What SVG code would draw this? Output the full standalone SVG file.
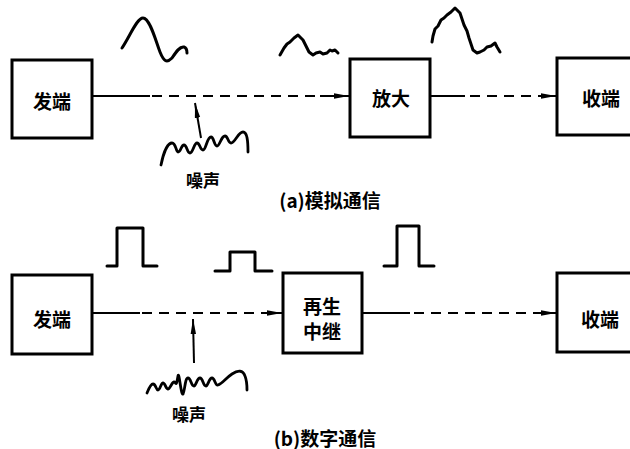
<svg xmlns="http://www.w3.org/2000/svg" width="630" height="449" viewBox="0 0 630 449">
<style>
.box{fill:#fff;stroke:#000;stroke-width:3}
.lbl{font-family:"Noto Sans CJK SC","Noto Sans",sans-serif;font-weight:bold;font-size:19px;fill:#000;text-anchor:middle;dominant-baseline:central}
.cap{font-family:"Noto Sans CJK SC","Noto Sans",sans-serif;font-weight:bold;font-size:19px;fill:#000;text-anchor:middle;dominant-baseline:central}
.ln{fill:none;stroke:#000;stroke-width:2}
.dash{fill:none;stroke:#000;stroke-width:2;stroke-dasharray:10 7}
.wave{fill:none;stroke:#000;stroke-width:3;stroke-linejoin:round;stroke-linecap:round}
.nz{fill:none;stroke:#000;stroke-width:2.8;stroke-linejoin:round;stroke-linecap:round}
</style>
<defs>
<marker id="ah" markerUnits="userSpaceOnUse" markerWidth="16" markerHeight="8" refX="15" refY="4" orient="auto">
<path d="M0,1.3 L15,4 L0,6.7 Z" fill="#000"/>
</marker>
</defs>

<g id="connectors">
<!-- (a) -->
<line class="ln" x1="92" y1="96" x2="150" y2="96"/>
<line class="dash" x1="152" y1="96" x2="322" y2="96"/>
<line class="ln" x1="320" y1="96" x2="349" y2="96" marker-end="url(#ah)"/>
<line class="ln" x1="430" y1="96" x2="465" y2="96"/>
<line class="dash" x1="470" y1="96" x2="540" y2="96"/>
<line class="ln" x1="538" y1="96" x2="556" y2="96" marker-end="url(#ah)"/>
<line class="ln" x1="201" y1="138" x2="195" y2="103" marker-end="url(#ah)"/>
<!-- (b) -->
<line class="ln" x1="92" y1="313" x2="140" y2="313"/>
<line class="dash" x1="142" y1="313" x2="265" y2="313"/>
<line class="ln" x1="262" y1="313" x2="282" y2="313" marker-end="url(#ah)"/>
<line class="ln" x1="362" y1="313" x2="410" y2="313"/>
<line class="dash" x1="414" y1="313" x2="540" y2="313"/>
<line class="ln" x1="536" y1="313" x2="556" y2="313" marker-end="url(#ah)"/>
<line class="ln" x1="194" y1="363" x2="193" y2="319" marker-end="url(#ah)"/>
</g>

<g id="waveforms">
<path class="wave" d="M122,48 C130,36 137,18 143,18 C150,18 156,42 160,52 C164,62 167,63 172,58 C176,52 180,46 184,47 C187,48 187,51 187,53"/>
<polyline class="wave" points="280,55 284,48 287,44 290,42 294,38 298,35 301,38 303,40 305,44 307,48 309,52 313,55 316,53 320,52 323,54 327,53 330,50 332,51 335,50 338,53"/>
<polyline class="wave" points="432,42 433,36 435,29 438,26 441,20 444,18 447,15 451,12 455,8 458,11 460,13 462,19 464,25 467,31 469,38 471,44 473,50 477,53 480,52 484,50 487,47 491,46 495,43 497,47 500,52"/>
<path class="nz" d="M161,165 C163,155 167,143 172,143 C176,143 176,152 178,152 C181,152 181,145 184,145 C187,145 187,153 190,153 C193,153 194,143 197,143 C200,143 200,150 203,150 C206,150 207,137 211,137 C214,137 214,146 217,146 C220,146 221,136 225,136 C228,136 228,143 231,143 C235,143 238,132 243,132 C247,132 248,140 248,152"/>
<polyline class="wave" points="107,266 117,266 117,228 143,228 143,266 157,266"/>
<polyline class="wave" points="215,271 230,271 230,252 255,252 255,271 272,271"/>
<polyline class="wave" points="384,266 397,266 397,226 419,226 419,266 434,266"/>
<path class="nz" d="M147,393 C149,388 151,384 153,384 C156,384 156,390 158,390 C160,390 161,383 163,383 C165,383 166,389 168,389 C170,389 172,382 174,382 C176,382 176,388 178,376 C179,370 181,396 183,394 C185,390 185,378 188,378 C191,378 191,386 194,386 C196,386 197,378 200,378 C203,378 203,386 206,386 C208,386 209,378 212,378 C215,378 215,386 218,385 C222,384 226,378 232,374 C238,370 243,370 245,376 C247,381 247,385 247,390"/>
</g>

<g id="n-send-a"><rect class="box" x="12" y="60" width="80" height="78"/><text class="lbl" x="52" y="100">发端</text></g>
<g id="n-amp"><rect class="box" x="350" y="59" width="80" height="78"/><text class="lbl" x="391" y="97">放大</text></g>
<g id="n-recv-a"><rect class="box" x="557" y="58" width="80" height="77"/><text class="lbl" x="601" y="97">收端</text></g>
<g id="n-send-b"><rect class="box" x="12" y="275" width="80" height="79"/><text class="lbl" x="52" y="318">发端</text></g>
<g id="n-regen"><rect class="box" x="283" y="273" width="79" height="80"/><text class="lbl" x="322" y="305">再生</text><text class="lbl" x="322" y="330">中继</text></g>
<g id="n-recv-b"><rect class="box" x="557" y="273" width="80" height="79"/><text class="lbl" x="600" y="318">收端</text></g>

<g id="labels">
<text class="cap" x="203" y="179" style="font-size:17px">噪声</text>
<text class="cap" x="189" y="413" style="font-size:17px">噪声</text>
<text class="cap" x="330" y="199">(a)模拟通信</text>
<text class="cap" x="325" y="437">(b)数字通信</text>
</g>
</svg>
